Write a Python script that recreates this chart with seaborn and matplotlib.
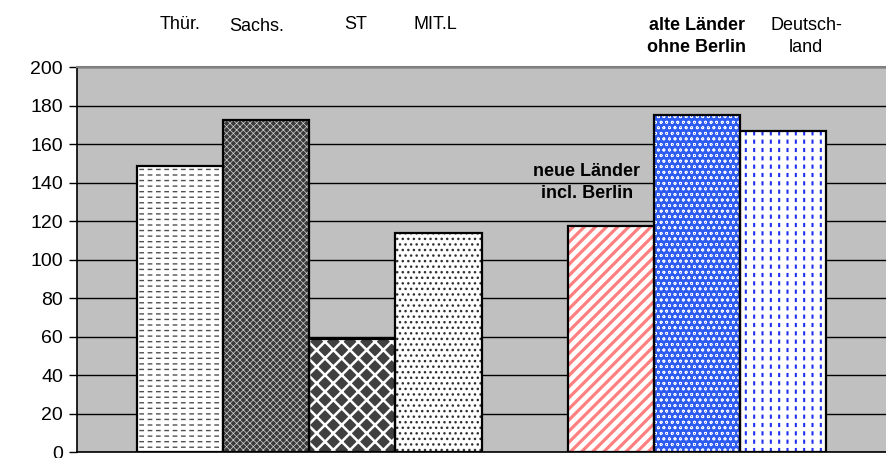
import matplotlib
matplotlib.use("Agg")
import matplotlib.pyplot as plt
import pandas as pd
import seaborn as sns
from matplotlib.patches import Rectangle

# Daten
kategorien = ["Thür.", "Sachs.", "ST", "MIT.L",
              "neue Länder\nincl. Berlin", "alte Länder\nohne Berlin", "Deutsch-\nland"]
werte = [148.7, 172.5, 58.7, 113.8, 117.4, 175.2, 166.9]
# leere Lücke zwischen den beiden Gruppen
reihenfolge = kategorien[:4] + [" "] + kategorien[4:]
y_ticks = list(range(0, 201, 20))

df = pd.DataFrame({"region": kategorien, "wert": werte})

# Füllmuster je Balken: Fläche, Schraffur, Schraffurfarbe, Linienbreite, Überlagerung
muster = {
    "Thür.": ("white", "---", "#505050", 1.0, "||", "white", 2.6),
    "Sachs.": ("#3a3a3a", "xxxxx", "#d0d0d0", 0.5, None, None, 0),
    "ST": ("#404040", "xx", "white", 1.8, None, None, 0),
    "MIT.L": ("white", "...", "#303030", 1.0, None, None, 0),
    "neue Länder\nincl. Berlin": ("white", "///", "#ff8080", 2.3, None, None, 0),
    "alte Länder\nohne Berlin": ("#2e5cf0", "ooo", "white", 0.5, None, None, 0),
    "Deutsch-\nland": ("white", "||", "#2030f0", 1.5, "--", "white", 3.0),
}

# Beschriftungen: (x in Kategorie-Einheiten, y in Datenwerten, fett)
beschriftung = {
    "Thür.": (0.0, 222.0, False),
    "Sachs.": (0.89, 221.0, False),
    "ST": (2.04, 222.0, False),
    "MIT.L": (2.96, 222.0, False),
    "neue Länder\nincl. Berlin": (4.72, 140.0, True),
    "alte Länder\nohne Berlin": (6.0, 216.0, True),
    "Deutsch-\nland": (7.27, 216.0, False),
}

sns.set_style("white")
plt.rcParams["font.family"] = ["Liberation Sans", "DejaVu Sans"]
plt.rcParams["text.color"] = "black"
plt.rcParams["ytick.color"] = "black"
plt.rcParams["hatch.linewidth"] = 1.0

fig = plt.figure(figsize=(8.87, 4.58), dpi=100)
ax = fig.add_axes([0.0868, 0.0131, 0.9132, 0.8406])
ax.set_facecolor("#c0c0c0")

sns.barplot(data=df, x="region", y="wert", order=reihenfolge, width=1.0,
            color="white", ax=ax, zorder=3)

for p in list(ax.patches):
    idx = int(round(p.get_x() + p.get_width() / 2))
    name = reihenfolge[idx]
    if name not in muster:
        continue
    face, hatch, hcol, hlw, ohatch, ocol, olw = muster[name]
    p.set_facecolor(face)
    p.set_edgecolor(hcol)
    p.set_hatch(hatch)
    p.set_linewidth(0)
    if hasattr(p, "set_hatch_linewidth"):
        p.set_hatch_linewidth(hlw)
    if ohatch:
        ov = Rectangle((p.get_x(), p.get_y()), p.get_width(), p.get_height(),
                       facecolor="none", edgecolor=ocol, hatch=ohatch,
                       linewidth=0, zorder=4)
        if hasattr(ov, "set_hatch_linewidth"):
            ov.set_hatch_linewidth(olw)
        ax.add_patch(ov)
    rahmen = Rectangle((p.get_x(), p.get_y()), p.get_width(), p.get_height(),
                       facecolor="none", edgecolor="black", linewidth=1.6, zorder=5)
    ax.add_patch(rahmen)

    bx, by, fett = beschriftung[name]
    ax.text(bx, by, name, ha="center", va="center", fontsize=13,
            fontweight="bold" if fett else "normal", linespacing=1.4,
            clip_on=False, zorder=6)

ax.set_xlim(-1.2, 8.21)
ax.set_ylim(0, 200)
ax.set_yticks(y_ticks)
ax.set_xticks([])
ax.set_xlabel("")
ax.set_ylabel("")
ax.yaxis.grid(True, color="black", linewidth=1.0)
ax.set_axisbelow(True)
ax.tick_params(axis="y", direction="out", length=6, width=1, color="black",
               labelsize=14, pad=4, left=True)
for s in ["left", "bottom"]:
    ax.spines[s].set_color("black")
    ax.spines[s].set_linewidth(1.2)
ax.spines["top"].set_color("#808080")
ax.spines["top"].set_linewidth(1.5)
ax.spines["right"].set_visible(False)

fig.savefig("out.png", dpi=100)
